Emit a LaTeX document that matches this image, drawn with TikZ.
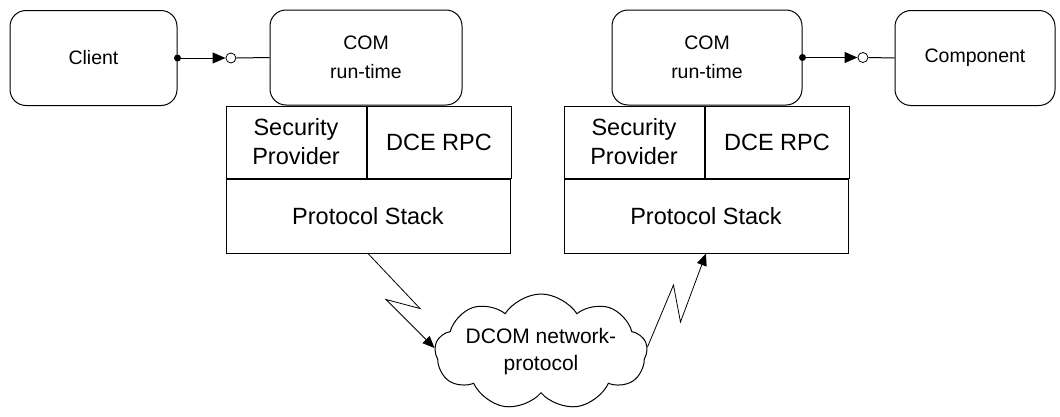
\documentclass[tikz,border=0pt]{standalone}
\usepackage{fontspec}
\setmainfont{Liberation Sans}
\usetikzlibrary{positioning, shapes.symbols, arrows.meta}
\tikzstyle{proc}=[rectangle, rounded corners=16pt, draw=black, line width=1pt, inner sep=0pt, minimum height=95pt, align=center, font=\fontsize{19.5}{29}\selectfont]
\tikzstyle{layer}=[rectangle, draw=black, line width=1pt, inner sep=0pt, align=center, font=\fontsize{23.5}{29}\selectfont]
\tikzstyle{socket}=[circle, draw=black, fill=white, line width=0.8pt, inner sep=0pt, minimum size=10pt]

\begin{document}
\begin{tikzpicture}[x=1pt, y=-1pt,
        net/.style={cloud, cloud puffs=9, cloud puff arc=115, cloud ignores aspect, draw=black, line width=1pt, inner sep=0pt, minimum width=200pt, minimum height=116pt, align=center, font=\fontsize{21}{27}\selectfont},
        plug/.style={line width=1pt, -{Triangle[length=13pt, width=11pt]}},
        bolt/.style={line width=0.8pt, -{Triangle[length=12pt, width=10pt]}}
    ]
    \useasboundingbox (0,0) rectangle (1060,416);

    % client side
    \node (client) [proc, minimum width=167pt] at (93.5,58) {Client};
    \node (comL) [proc, minimum width=192pt] at (366,57.5) {COM\\run-time};
    \node (secL) [layer, minimum width=140pt, minimum height=72pt] at (296,142) {Security\\Provider};
    \node (dceL) [layer, minimum width=144pt, minimum height=72pt, right=0pt of secL] {DCE RPC};
    \node (stackL) [layer, minimum width=284pt, minimum height=74pt, below right=0pt of secL.south west, anchor=north west] {Protocol Stack};

    % component side
    \node (comR) [proc, minimum width=190pt] at (707,57.5) {COM\\run-time};
    \node (component) [proc, minimum width=160pt] at (975,58) {Component};
    \node (secR) [layer, minimum width=140pt, minimum height=72pt] at (634,142) {Security\\Provider};
    \node (dceR) [layer, minimum width=144pt, minimum height=72pt, right=0pt of secR] {DCE RPC};
    \node (stackR) [layer, minimum width=284pt, minimum height=74pt, below right=0pt of secR.south west, anchor=north west] {Protocol Stack};

    % network
    \node (dcom) [net] at (541,352) {DCOM network-\\protocol};

    % interfaces
    \node (sockL) [socket, right=48pt of client.east] {};
    \node (sockR) [socket, right=55pt of comR.east] {};
    \fill (client.east) circle (3.5);
    \fill (comR.east) circle (3.5);
    \draw [plug] (client.east) -- (sockL.west);
    \draw [line width=1pt] (sockL.east) -- (comL.west);
    \draw [plug] (comR.east) -- (sockR.west);
    \draw [line width=1pt] (sockR.east) -- (component.west);

    % links
    \draw [bolt] (stackL.south) -- ++(52,55) -- ++(-34,-9) -- ([yshift=4pt]dcom.west);
    \draw [bolt] ([yshift=5pt]dcom.east) -- ++(26,-62) -- ++(7,37) -- (stackR.south);
\end{tikzpicture}
\end{document}
